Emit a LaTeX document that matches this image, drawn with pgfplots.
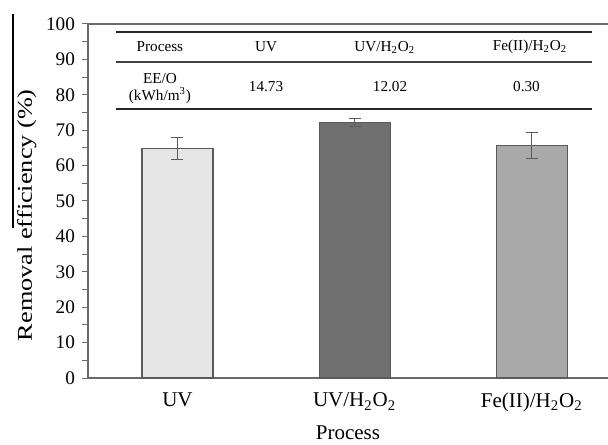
\documentclass[border=0pt]{standalone}
\usepackage{graphicx}
\usepackage{pgfplots}
\pgfplotsset{compat=1.18}
\usepackage{fontspec}
\setmainfont{Liberation Serif}
\definecolor{barA}{HTML}{E6E6E6}
\definecolor{barB}{HTML}{6F6F6F}
\definecolor{barC}{HTML}{A9A9A9}
\definecolor{edge}{HTML}{5A5A5A}
\definecolor{axl}{HTML}{6A6A6A}
\begin{document}
\begin{tikzpicture}
\begin{axis}[
  scale only axis, width=260pt, height=177pt,
  xmin=-0.505, xmax=2.43, ymin=0, ymax=100,
  axis lines*=left,
  axis line style={axl, line width=0.7pt},
  xtick={0,1,2},
  xticklabels={UV, UV/H\textsubscript{2}O\textsubscript{2}, Fe(II)/H\textsubscript{2}O\textsubscript{2}},
  x tick style={draw=none},
  x tick label style={font=\fontsize{10.5}{12}\selectfont, yshift=-1pt},
  ytick={0,10,...,100},
  minor y tick num=1,
  tick align=outside,
  major tick length=3pt, minor tick length=3pt,
  y tick style={axl, line width=0.5pt},
  y tick label style={font=\fontsize{9.6}{11}\selectfont},
  /pgf/number format/assume math mode=true,
  xlabel={Process},
  xlabel style={font=\fontsize{10.5}{12}\selectfont, yshift=0pt},
  ylabel={\scalebox{1.25}[1]{Removal efficiency (\%)}},
  ylabel style={font=\fontsize{10.5}{12}\selectfont, at={(ticklabel cs:0.46)}, yshift=-2pt},
  clip=false,
]
\addplot[ybar, bar width=35.5pt, fill=barA, draw=edge, line width=0.6pt,
  error bars/.cd, y dir=both, y explicit, error bar style={edge, line width=0.5pt}, error mark options={rotate=90, mark size=3pt, edge}]
  coordinates {(0,64.9) +- (0,3.2)};
\addplot[ybar, bar width=35.5pt, fill=barB, draw=edge, line width=0.6pt,
  error bars/.cd, y dir=both, y explicit, error bar style={edge, line width=0.5pt}, error mark options={rotate=90, mark size=3pt, edge}]
  coordinates {(1,72.1) +- (0,1.1)};
\addplot[ybar, bar width=35.5pt, fill=barC, draw=edge, line width=0.6pt,
  error bars/.cd, y dir=both, y explicit, error bar style={edge, line width=0.5pt}, error mark options={rotate=90, mark size=3pt, edge}]
  coordinates {(2,65.7) +- (0,3.75)};
% top axis line
\draw[axl, line width=0.7pt] (rel axis cs:0,1) -- (rel axis cs:1,1);
% inset table
\draw[black!85, line width=1pt] (axis cs:-0.347,97.7) -- (axis cs:2.34,97.7);
\draw[black!75, line width=0.8pt] (axis cs:-0.347,89.3) -- (axis cs:2.34,89.3);
\draw[black!85, line width=1pt] (axis cs:-0.347,76.0) -- (axis cs:2.34,76.0);
\begin{scope}[every node/.style={font=\fontsize{7.6}{9}\selectfont, inner sep=0pt}]
\node at (axis cs:-0.099,93.5) {Process};
\node at (axis cs:0.5,93.5) {UV};
\node at (axis cs:1.17,93.5) {UV/H\textsubscript{2}O\textsubscript{2}};
\node at (axis cs:1.99,93.5) {Fe(II)/H\textsubscript{2}O\textsubscript{2}};
\node at (axis cs:-0.099,84.7) {EE/O};
\node at (axis cs:-0.099,79.7) {(kWh/m\textsuperscript{3})};
\node at (axis cs:0.5,82.2) {14.73};
\node at (axis cs:1.2,82.2) {12.02};
\node at (axis cs:1.97,82.2) {0.30};
\end{scope}
\coordinate (o) at (rel axis cs:0,0);
\end{axis}
\draw[black, line width=0.6pt] (o) ++(-37.5pt,75pt) -- ++(0pt,107pt);
\pgfresetboundingbox
\path (o) ++(-44pt,-33pt) rectangle ++(304pt,222pt);
\end{tikzpicture}
\end{document}
